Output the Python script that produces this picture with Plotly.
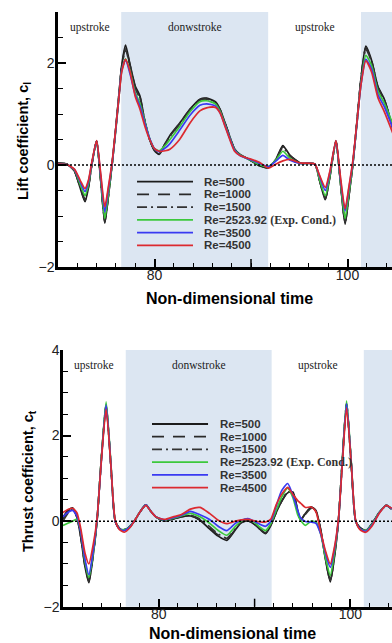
import plotly.graph_objects as go

# ---------------- data ----------------
re_labels = ["Re=500", "Re=1000", "Re=1500", "Re=2523.92", "Re=3500", "Re=4500"]
phase_labels = ["upstroke", "donwstroke", "upstroke"]
phase_bounds = [70.0, 76.55, 91.78, 101.4]   # upstroke | downstroke | upstroke | downstroke...

x_ticks = [80, 100]
x_ticktext = ["80", "100"]
x_unlabeled_major = [90]
lift_ticks = [-2, 0, 2]
thrust_ticks = [-2, 0, 2, 4]

# Lift coefficient
t_lift = [70.0, 70.9, 71.7, 72.3, 72.8, 73.15, 73.5, 74.0, 74.4, 74.85, 75.2, 75.6, 76.0, 76.3,
          76.6, 77.0, 77.45, 78.0, 78.5, 79.0, 79.5, 80.0, 80.5, 81.1, 81.6, 82.6, 83.7, 84.7,
          85.4, 86.3, 86.8, 87.3, 87.8, 88.3, 88.9, 89.9, 90.9, 91.8, 92.6, 93.3, 94.0, 95.1,
          96.6, 97.1, 97.7, 98.2, 98.8, 99.25, 99.75, 100.15, 100.55, 101.0, 101.4, 101.9,
          102.5, 103.15, 103.8, 104.7]
cl_re500 = [0.03, 0.02, -0.12, -0.45, -0.72, -0.45, 0.0, 0.47, -0.25, -1.14, -0.65, 0.0, 0.75, 1.35,
            1.95, 2.35, 1.98, 1.55, 1.35, 0.85, 0.5, 0.28, 0.21, 0.42, 0.58, 0.82, 1.1, 1.29,
            1.31, 1.24, 1.09, 0.83, 0.56, 0.31, 0.2, 0.1, -0.02, -0.05, 0.12, 0.38, 0.2, 0.04,
            0.02, -0.3, -0.68, -0.2, 0.47, -0.3, -1.16, -0.6, 0.0, 0.9, 1.7, 2.33,
            2.05, 1.54, 1.3, 0.72]
cl_re1000 = [0.03, 0.02, -0.12, -0.44, -0.7, -0.44, 0.0, 0.47, -0.25, -1.12, -0.64, 0.0, 0.75, 1.35,
             1.93, 2.3, 1.97, 1.53, 1.33, 0.86, 0.5, 0.29, 0.22, 0.42, 0.57, 0.81, 1.09, 1.28,
             1.3, 1.23, 1.08, 0.83, 0.56, 0.31, 0.2, 0.1, -0.02, -0.05, 0.11, 0.36, 0.19, 0.04,
             0.02, -0.3, -0.67, -0.2, 0.47, -0.3, -1.14, -0.6, 0.0, 0.9, 1.7, 2.3,
             2.04, 1.53, 1.29, 0.72]
cl_re1500 = [0.03, 0.02, -0.11, -0.42, -0.67, -0.42, 0.0, 0.47, -0.24, -1.1, -0.63, 0.0, 0.74, 1.34,
             1.92, 2.26, 1.95, 1.5, 1.3, 0.86, 0.5, 0.29, 0.23, 0.41, 0.56, 0.8, 1.08, 1.27,
             1.29, 1.22, 1.07, 0.82, 0.55, 0.31, 0.2, 0.1, -0.01, -0.05, 0.11, 0.34, 0.18, 0.04,
             0.02, -0.29, -0.65, -0.19, 0.47, -0.3, -1.12, -0.58, 0.0, 0.88, 1.68, 2.27,
             2.02, 1.51, 1.27, 0.74]
cl_re2524 = [0.02, 0.01, -0.1, -0.38, -0.6, -0.38, 0.02, 0.46, -0.22, -1.05, -0.6, 0.0, 0.7, 1.3,
             1.85, 2.08, 1.85, 1.42, 1.2, 0.85, 0.52, 0.32, 0.28, 0.38, 0.5, 0.75, 1.05, 1.24,
             1.26, 1.2, 1.05, 0.8, 0.53, 0.3, 0.19, 0.1, 0.0, -0.03, 0.1, 0.27, 0.14, 0.03,
             0.02, -0.28, -0.6, -0.18, 0.46, -0.3, -1.05, -0.55, 0.02, 0.85, 1.6, 2.15,
             1.95, 1.45, 1.22, 0.8]
cl_re3500 = [0.02, 0.01, -0.09, -0.33, -0.52, -0.33, 0.03, 0.47, -0.17, -0.92, -0.5, 0.02, 0.72, 1.3,
             1.85, 2.06, 1.8, 1.38, 1.15, 0.82, 0.52, 0.32, 0.26, 0.33, 0.42, 0.68, 0.98, 1.17,
             1.2, 1.16, 1.02, 0.78, 0.52, 0.29, 0.18, 0.11, 0.03, -0.03, 0.08, 0.19, 0.1, 0.03,
             0.02, -0.22, -0.5, -0.12, 0.47, -0.25, -0.9, -0.45, 0.05, 0.85, 1.58, 2.07,
             1.88, 1.38, 1.15, 0.72]
cl_re4500 = [0.02, 0.01, -0.08, -0.3, -0.46, -0.3, 0.05, 0.48, -0.12, -0.82, -0.45, 0.05, 0.75, 1.3,
             1.82, 2.07, 1.84, 1.35, 1.09, 0.76, 0.5, 0.32, 0.27, 0.28, 0.31, 0.5, 0.83, 1.06,
             1.12, 1.13, 1.02, 0.76, 0.5, 0.27, 0.18, 0.12, 0.05, -0.06, 0.02, 0.08, 0.11, 0.04,
             0.02, -0.2, -0.44, -0.1, 0.48, -0.2, -0.86, -0.42, 0.08, 0.88, 1.58, 2.04,
             1.82, 1.32, 1.05, 0.62]

# Thrust coefficient
t_thrust = [70.0, 70.5, 71.0, 71.45, 71.85, 72.3, 72.7, 73.15, 73.55, 74.0, 74.5, 75.0, 75.45,
            75.9, 76.4, 77.0, 77.5, 78.05, 78.65, 79.2, 79.7, 80.6, 81.5, 82.3, 83.3, 84.3,
            85.3, 86.2, 87.1, 88.0, 88.6, 89.3, 90.1, 90.6, 91.15, 91.7, 92.25, 92.8, 93.45,
            94.0, 94.5, 94.8, 95.3, 95.9, 96.4, 96.9, 97.4, 97.9, 98.3, 98.75, 99.15, 99.6,
            100.1, 100.55, 101.0, 101.6, 102.3, 103.0, 103.75, 104.3]
ct_re500 = [0.09, 0.25, 0.31, 0.1, -0.37, -1.07, -1.44, -0.8, 0.0, 1.45, 2.72, 1.3, 0.0,
            -0.17, -0.2, -0.12, 0.02, 0.22, 0.38, 0.22, 0.1, 0.0, 0.05, 0.1, 0.12, 0.02,
            -0.18, -0.35, -0.45, -0.2, -0.04, 0.01, -0.1, -0.2, -0.29, -0.1, 0.2, 0.45, 0.66,
            0.68, 0.25, 0.03, 0.18, 0.33, 0.25, -0.2, -0.9, -1.42, -0.9, 0.0, 1.4, 2.75,
            1.3, 0.0, -0.15, -0.22, -0.05, 0.2, 0.37, 0.28]
ct_re1000 = [0.05, 0.22, 0.3, 0.1, -0.36, -1.05, -1.4, -0.78, 0.0, 1.45, 2.7, 1.3, 0.0,
             -0.17, -0.2, -0.12, 0.02, 0.22, 0.38, 0.22, 0.1, 0.0, 0.05, 0.1, 0.13, 0.03,
             -0.16, -0.33, -0.43, -0.19, -0.03, 0.01, -0.1, -0.19, -0.28, -0.09, 0.2, 0.46, 0.67,
             0.66, 0.24, 0.03, 0.18, 0.33, 0.24, -0.2, -0.88, -1.4, -0.88, 0.0, 1.4, 2.74,
             1.3, 0.0, -0.15, -0.22, -0.05, 0.2, 0.37, 0.28]
ct_re1500 = [0.0, 0.18, 0.28, 0.1, -0.33, -1.02, -1.38, -0.77, 0.0, 1.45, 2.7, 1.3, 0.0,
             -0.17, -0.2, -0.12, 0.02, 0.22, 0.38, 0.22, 0.1, 0.0, 0.06, 0.11, 0.14, 0.05,
             -0.13, -0.3, -0.4, -0.17, -0.02, 0.02, -0.09, -0.18, -0.26, -0.08, 0.21, 0.47, 0.68,
             0.64, 0.22, 0.02, 0.16, 0.3, 0.22, -0.21, -0.87, -1.38, -0.86, 0.0, 1.4, 2.74,
             1.3, 0.0, -0.16, -0.22, -0.05, 0.2, 0.37, 0.28]
ct_re2524 = [-0.1, -0.05, 0.0, 0.05, -0.24, -0.95, -1.32, -0.75, 0.02, 1.45, 2.79, 1.35, 0.0,
             -0.18, -0.2, -0.12, 0.02, 0.22, 0.38, 0.22, 0.1, 0.02, 0.07, 0.12, 0.18, 0.1,
             -0.05, -0.22, -0.33, -0.12, 0.0, 0.05, -0.05, -0.15, -0.22, -0.05, 0.25, 0.55, 0.77,
             0.55, 0.15, 0.02, -0.1, 0.0, -0.02, -0.3, -0.85, -1.27, -0.8, 0.02, 1.4, 2.81,
             1.35, 0.0, -0.18, -0.22, -0.06, 0.2, 0.37, 0.29]
ct_re3500 = [0.1, 0.2, 0.25, 0.12, -0.25, -0.9, -1.25, -0.7, 0.03, 1.4, 2.72, 1.32, 0.0,
             -0.18, -0.22, -0.13, 0.02, 0.22, 0.38, 0.22, 0.1, 0.03, 0.08, 0.13, 0.23, 0.15,
             0.04, -0.12, -0.22, -0.05, 0.02, 0.06, -0.02, -0.08, -0.12, 0.0, 0.35, 0.7, 0.88,
             0.6, 0.25, 0.08, -0.01, -0.02, -0.05, -0.3, -0.75, -1.08, -0.7, 0.03, 1.35, 2.75,
             1.32, 0.0, -0.18, -0.24, -0.08, 0.19, 0.37, 0.29]
ct_re4500 = [0.2, 0.27, 0.3, 0.2, -0.17, -0.75, -1.0, -0.55, 0.05, 1.4, 2.62, 1.3, 0.02,
             -0.2, -0.26, -0.15, 0.02, 0.22, 0.37, 0.22, 0.1, 0.04, 0.1, 0.15, 0.28, 0.32,
             0.18, 0.02, -0.06, 0.0, 0.03, 0.04, 0.0, -0.02, -0.02, 0.05, 0.38, 0.62, 0.79,
             0.62, 0.48, 0.42, 0.32, 0.33, 0.22, -0.25, -0.7, -1.0, -0.65, 0.05, 1.3, 2.65,
             1.3, 0.02, -0.2, -0.26, -0.1, 0.18, 0.37, 0.3]

lift_series = [cl_re500, cl_re1000, cl_re1500, cl_re2524, cl_re3500, cl_re4500]
thrust_series = [ct_re500, ct_re1000, ct_re1500, ct_re2524, ct_re3500, ct_re4500]

# ---------------- styles ----------------
colors = ["#1c1c1c", "#2a2a2a", "#333333", "#3cc83c", "#3a3af2", "#dc2a30"]
dashes = ["solid", "12px,9px", "10px,4px,2px,4px", "solid", "solid", "solid"]
W, H = 392, 643
FONT = "Arial, Liberation Sans, sans-serif"
SERIF = "Times New Roman, Liberation Serif, serif"
shade = "#dce6f2"

fig = go.Figure()

panels = [
    dict(t=t_lift, series=lift_series, xa="x", ya="y", plot_h=255.0),
    dict(t=t_thrust, series=thrust_series, xa="x2", ya="y2", plot_h=256.7),
]
for p in panels:
    for name, vals, c, d in zip(re_labels, p["series"], colors, dashes):
        fig.add_trace(go.Scatter(
            x=p["t"], y=vals, name=name, mode="lines", xaxis=p["xa"], yaxis=p["ya"],
            line=dict(color=c, width=1.7, dash=d, shape="spline", smoothing=0.6),
            showlegend=False))

shapes = []
annotations = []
for p in panels:
    xr, yr = p["xa"], p["ya"]
    # downstroke shading
    for i in range(1, len(phase_bounds), 2):
        x1 = phase_bounds[i + 1] if i + 1 < len(phase_bounds) else 130
        shapes.append(dict(type="rect", xref=xr, yref=yr + " domain", x0=phase_bounds[i], x1=x1,
                           y0=0, y1=1, fillcolor=shade, line=dict(width=0), layer="below"))
    # zero dotted line
    shapes.append(dict(type="line", xref=xr + " domain", yref=yr, x0=0, x1=1, y0=0, y1=0,
                       line=dict(color="black", width=1.5, dash="2px,2px"), layer="above"))
    # unlabeled major tick(s)
    for xv in x_unlabeled_major:
        shapes.append(dict(type="line", xref=xr, yref=yr + " domain", x0=xv, x1=xv,
                           y0=0, y1=8 / p["plot_h"], line=dict(color="black", width=1.5)))
    # phase labels
    for k, lab in enumerate(phase_labels):
        xm = (phase_bounds[k] + phase_bounds[k + 1]) / 2
        annotations.append(dict(xref=xr, yref=yr + " domain", x=xm, y=1, yshift=-15,
                                text=lab, showarrow=False, yanchor="middle",
                                font=dict(family=SERIF, size=11.5, color="#222")))

# manual legends (compact row spacing as in the original)
legend_geo = [
    dict(xr="x", yr="y", x0=78.19, x1=83.99, xt=84.92, y0=-0.325, dy=-0.25),
    dict(xr="x2", yr="y2", x0=79.29, x1=85.14, xt=86.18, y0=2.27, dy=-0.297),
]
for g in legend_geo:
    for i, (name, c, d) in enumerate(zip(re_labels, colors, dashes)):
        yy = g["y0"] + i * g["dy"]
        shapes.append(dict(type="line", xref=g["xr"], yref=g["yr"], x0=g["x0"], x1=g["x1"],
                           y0=yy, y1=yy, line=dict(color=c, width=1.8, dash=d)))
        txt = "<b>%s</b>" % name
        if name == "Re=2523.92":
            txt += " <span style='font-family:Times New Roman, Liberation Serif, serif;font-size:12px'><b>(Exp. Cond.)</b></span>"
        annotations.append(dict(xref=g["xr"], yref=g["yr"], x=g["xt"], y=yy, text=txt,
                                showarrow=False, xanchor="left", yanchor="middle",
                                font=dict(family=FONT, size=11.5, color="#333")))

# axis titles
titles = [
    dict(x=229.5, y=298, text="<b>Non-dimensional time</b>", angle=0),
    dict(x=232, y=633, text="<b>Non-dimensional time</b>", angle=0),
    dict(x=24, y=141, text="<b>Lift coefficient, c<sub>l</sub></b>", angle=-90),
    dict(x=29, y=481, text="<b>Thrust coefficient, c<sub>t</sub></b>", angle=-90),
]
for tt in titles:
    annotations.append(dict(xref="paper", yref="paper", x=tt["x"] / W, y=1 - tt["y"] / H,
                            text=tt["text"], textangle=tt["angle"], showarrow=False,
                            xanchor="center", yanchor="middle",
                            font=dict(family=FONT, size=16 if tt["angle"] == 0 else 14.5, color="black")))

axis_common = dict(showgrid=False, zeroline=False, showline=True, linecolor="black", linewidth=2.5,
                   ticks="inside", ticklen=8, tickwidth=1.5, tickcolor="black",
                   tickfont=dict(family=FONT, size=14, color="#222"), automargin=False)

fig.update_layout(
    width=W, height=H, margin=dict(l=0, r=0, t=0, b=0),
    paper_bgcolor="white", plot_bgcolor="white", showlegend=False,
    shapes=shapes, annotations=annotations,
    xaxis=dict(domain=[58 / W, 1], range=[70, 70 + (W - 58) / 9.65], anchor="y",
               tickvals=x_ticks, ticktext=x_ticktext, ticklabelstandoff=-7,
               minor=dict(ticks="inside", ticklen=4, tickwidth=1.2, tickcolor="black", dtick=2, tick0=70),
               **axis_common),
    yaxis=dict(domain=[1 - 267 / H, 1 - 12 / H], range=[-2, 3], anchor="x",
               tickvals=lift_ticks, ticklabelstandoff=-2,
               minor=dict(ticks="inside", ticklen=5, tickwidth=1.2, tickcolor="black", dtick=0.5, tick0=0),
               **axis_common),
    xaxis2=dict(domain=[63 / W, 1], range=[70, 70 + (W - 63) / 9.58], anchor="y2",
                tickvals=x_ticks, ticktext=x_ticktext, ticklabelstandoff=-7,
                minor=dict(ticks="inside", ticklen=4, tickwidth=1.2, tickcolor="black", dtick=2, tick0=70),
                **axis_common),
    yaxis2=dict(domain=[1 - 606.7 / H, 1 - 350 / H], range=[-2, 4], anchor="x2",
                tickvals=thrust_ticks, ticklabelstandoff=-2,
                minor=dict(ticks="inside", ticklen=5, tickwidth=1.2, tickcolor="black", dtick=0.5, tick0=0),
                **axis_common),
)

fig.write_html("out.html", config={"displayModeBar": False},
               post_script="document.body.style.margin='0px';document.body.style.overflow='hidden';")
